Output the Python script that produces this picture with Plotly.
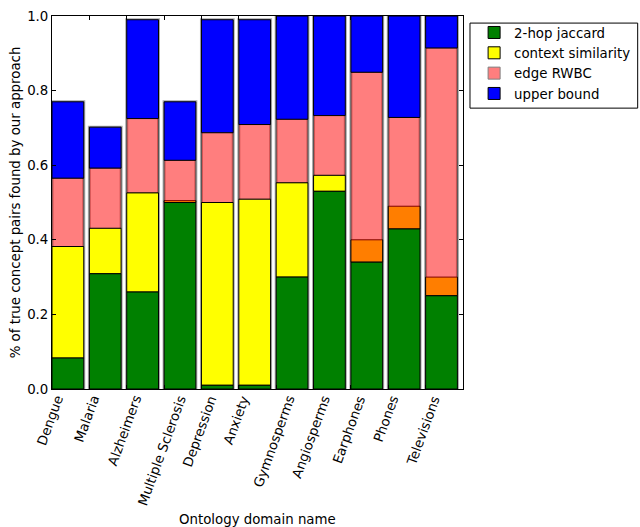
import math
import plotly.graph_objects as go

# Ontology domains and the share of true concept pairs found by each signal
domains = ["Dengue", "Malaria", "Alzheimers", "Multiple Sclerosis", "Depression",
           "Anxiety", "Gymnosperms", "Angiosperms", "Earphones", "Phones", "Televisions"]
jaccard = [0.083, 0.309, 0.260, 0.500, 0.010, 0.010, 0.300, 0.530, 0.340, 0.429, 0.250]
context = [0.299, 0.122, 0.266, 0.005, 0.490, 0.499, 0.253, 0.043, 0.060, 0.061, 0.050]
rwbc_top = [0.565, 0.592, 0.725, 0.613, 0.687, 0.709, 0.723, 0.733, 0.849, 0.728, 0.914]
upper_bound = [0.770, 0.702, 0.990, 0.770, 0.990, 0.990, 1.000, 1.000, 1.000, 1.000, 1.000]
# domains where the RWBC share is counted from the jaccard level (overlapping context)
rwbc_from_jaccard = [False, False, False, True, False, False, False, False, True, True, True]

BAR_W = 0.85
n = len(domains)
xs = [i + BAR_W / 2 for i in range(n)]

ctx_top = [j + c for j, c in zip(jaccard, context)]
rwbc_base = [j if flag else ct for j, ct, flag in zip(jaccard, ctx_top, rwbc_from_jaccard)]

FONT = "DejaVu Sans"
FS = 13.33
edge = dict(color="black", width=1)

# DejaVu Sans advance widths (units per em = 2048) for laying out rotated labels
ADV = {
    "A": 1401, "D": 1577, "E": 1294, "G": 1589, "M": 1767, "P": 1235, "S": 1300,
    "T": 1251, "a": 1255, "c": 1126, "e": 1260, "g": 1300, "h": 1298, "i": 569,
    "l": 569, "m": 1995, "n": 1298, "o": 1253, "p": 1300, "r": 842, "s": 1067,
    "t": 803, "u": 1298, "v": 1212, "x": 1212, "y": 1212, "z": 1075, " ": 651,
}


def text_width(s, size):
    return sum(ADV.get(ch, 1250) for ch in s) / 2048 * size


fig = go.Figure()
# soft grey outline around each whole stack
fig.add_trace(go.Bar(
    x=xs, y=upper_bound, base=[0] * n, width=BAR_W,
    marker=dict(color="rgba(0,0,0,0)", line=dict(color="#a8a8a8", width=3)),
    showlegend=False, hoverinfo="skip"))
fig.add_trace(go.Bar(
    x=xs, y=[u - r for u, r in zip(upper_bound, rwbc_top)], base=rwbc_top,
    width=BAR_W, marker=dict(color="#0000ff", line=edge),
    name="upper bound", legendrank=4))
fig.add_trace(go.Bar(
    x=xs, y=context, base=jaccard,
    width=BAR_W, marker=dict(color="#ffff00", line=edge),
    name="context similarity", legendrank=2))
fig.add_trace(go.Bar(
    x=xs, y=[r - b for r, b in zip(rwbc_top, rwbc_base)], base=rwbc_base,
    width=BAR_W, marker=dict(color="#ff0000", line=edge), opacity=0.5,
    name="edge RWBC", legendrank=3))
fig.add_trace(go.Bar(
    x=xs, y=jaccard, base=[0] * n,
    width=BAR_W, marker=dict(color="#008000", line=edge),
    name="2-hop jaccard", legendrank=1))

# rotated category labels: centred on each tick, top edge just below the axis
ANG = 70
sin_a, cos_a = math.sin(math.radians(ANG)), math.cos(math.radians(ANG))
line_h = FS * 1.3
for i, name in enumerate(domains):
    w = text_width(name, FS)
    half_extent = (w * sin_a + line_h * cos_a) / 2
    fig.add_annotation(
        x=i, y=0, xref="x", yref="paper", text=name, textangle=-ANG,
        showarrow=False, xanchor="center", yanchor="middle",
        xshift=-2, yshift=-(4 + half_extent),
        font=dict(family=FONT, size=FS, color="black"))

# x-axis title
fig.add_annotation(
    x=0.5, y=0, xref="paper", yref="paper", text="Ontology domain name",
    showarrow=False, xanchor="center", yanchor="middle", yshift=-130,
    font=dict(family=FONT, size=FS, color="black"))

# legend frame
fig.add_shape(type="rect", xref="paper", yref="paper",
              x0=1.017, x1=1.425, y0=0.753, y1=0.981,
              line=dict(color="black", width=1), fillcolor="white", layer="below")

fig.update_layout(
    width=640, height=527,
    margin=dict(l=52, r=177, t=16, b=138, autoexpand=False),
    barmode="overlay",
    plot_bgcolor="white", paper_bgcolor="white",
    font=dict(family=FONT, size=FS, color="black"),
    showlegend=True,
    legend=dict(
        x=1.027, y=0.9965, xanchor="left", yanchor="top",
        borderwidth=0, bgcolor="rgba(0,0,0,0)",
        font=dict(family=FONT, size=FS), traceorder="normal",
        tracegroupgap=0, itemwidth=30),
    xaxis=dict(
        range=[0, 11], tickvals=list(range(n)), showticklabels=False,
        ticks="inside", ticklen=4, tickcolor="black",
        showline=True, linecolor="black", linewidth=1, mirror="ticks",
        showgrid=False, zeroline=False, automargin=False),
    yaxis=dict(
        range=[0, 1], tickvals=[0, 0.2, 0.4, 0.6, 0.8, 1.0], tickformat=".1f",
        ticks="inside", ticklen=4, tickcolor="black",
        showline=True, linecolor="black", linewidth=1, mirror="ticks",
        showgrid=False, zeroline=False, automargin=False,
        title=dict(text="% of true concept pairs found by our approach",
                   standoff=3, font=dict(family=FONT, size=FS))),
)

fig.write_html("out.html")
